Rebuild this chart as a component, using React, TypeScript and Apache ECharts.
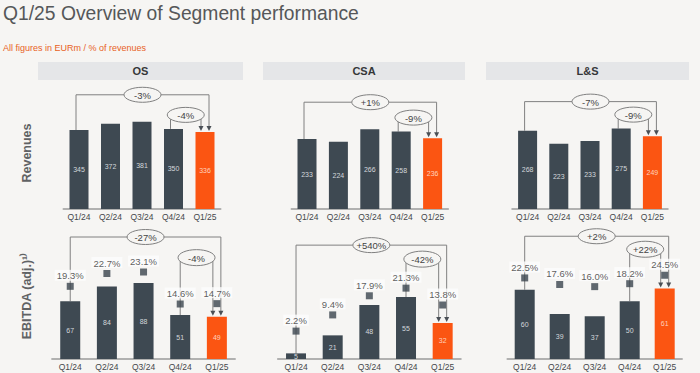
import React, { useEffect, useRef } from "react";
import * as echarts from "echarts";

const QUARTERS = ["Q1/24", "Q2/24", "Q3/24", "Q4/24", "Q1/25"];
const SEGMENTS = ["OS", "CSA", "L&S"];
const REV_OS = [345, 372, 381, 350, 336];
const REV_CSA = [233, 224, 266, 258, 236];
const REV_LS = [268, 223, 233, 275, 249];
const EBITDA_OS = [67, 84, 88, 51, 49];
const EBITDA_CSA = [5, 21, 48, 55, 32];
const EBITDA_LS = [60, 39, 37, 50, 61];
const MARGIN_OS = [19.3, 22.7, 23.1, 14.6, 14.7];
const MARGIN_CSA = [2.2, 9.4, 17.9, 21.3, 13.8];
const MARGIN_LS = [22.5, 17.6, 16.0, 18.2, 24.5];
const REV_YOY = ["-3%", "+1%", "-7%"];
const REV_QOQ = ["-4%", "-9%", "-9%"];
const EBITDA_YOY = ["-27%", "+540%", "+2%"];
const EBITDA_QOQ = ["-4%", "-42%", "+22%"];

const TITLE = "Q1/25 Overview of Segment performance";
const SUBTITLE = "All figures in EURm / % of revenues";

const REVENUES = [REV_OS, REV_CSA, REV_LS];
const EBITDAS = [EBITDA_OS, EBITDA_CSA, EBITDA_LS];
const MARGINS = [MARGIN_OS, MARGIN_CSA, MARGIN_LS];

// layout (pixels / axis ranges), not data
const FONT = '"Liberation Sans", Arial, Helvetica, sans-serif';
const BG = "#f6f5f3";
const DARK = "#3e4952";
const ORANGE = "#fb5512";
const LINE = "#808080";
const REV_GRID = [
  { left: 63.25, width: 157.5 },
  { left: 291.3, width: 157 },
  { left: 512, width: 156 },
];
const EB_GRID = [
  { left: 51.9, width: 183.3 },
  { left: 277.7, width: 183.3 },
  { left: 507.2, width: 175 },
];
const REV_TOP = 95, REV_H = 114;
const EB_TOP = 240, EB_H = 119;
const REV_MAX = [498, 380, 390];
const EB_MAX = [138, 105.7, 103];
const MG_RANGE = [
  [0, 31.6],
  [-10.2, 42.7],
  [-38, 50.8],
];
const HEADERS = [
  { x: 38, w: 205 },
  { x: 263, w: 202 },
  { x: 486, w: 203 },
];
const EB_BIG_GAP = [19, 27, 23];
const EB_SMALL_GAP = [30, 13, 10];

function staticGraphics(): any[] {
  const els: any[] = [
    {
      id: "title",
      type: "text",
      x: 3,
      y: 4,
      z: 10,
      style: { text: TITLE, font: `19.3px ${FONT}`, fill: "#555759" },
    },
    {
      id: "subtitle",
      type: "text",
      x: 3,
      y: 43,
      z: 10,
      style: { text: SUBTITLE, font: `9px ${FONT}`, fill: "#e8611e" },
    },
    {
      id: "rowRev",
      type: "text",
      x: 26.5,
      y: 153,
      rotation: Math.PI / 2,
      z: 10,
      style: {
        text: "Revenues",
        font: `bold 12.5px ${FONT}`,
        fill: "#606264",
        align: "center",
        verticalAlign: "middle",
        textAlign: "center",
        textVerticalAlign: "middle",
      },
    },
    {
      id: "rowEb",
      type: "text",
      x: 26.5,
      y: 296,
      rotation: Math.PI / 2,
      z: 10,
      style: {
        text: "EBITDA (adj.)\u00b9\u207e",
        font: `bold 12.5px ${FONT}`,
        fill: "#606264",
        align: "center",
        verticalAlign: "middle",
        textAlign: "center",
        textVerticalAlign: "middle",
      },
    },
  ];
  SEGMENTS.forEach((s, i) => {
    els.push({
      id: "hdr" + i,
      type: "rect",
      z: 1,
      shape: { x: HEADERS[i].x, y: 62, width: HEADERS[i].w, height: 18 },
      style: { fill: "#e5e6e8" },
    });
    els.push({
      id: "hdrt" + i,
      type: "text",
      z: 2,
      x: HEADERS[i].x + HEADERS[i].w / 2,
      y: 71,
      style: {
        text: s,
        font: `bold 11px ${FONT}`,
        fill: "#353739",
        align: "center",
        verticalAlign: "middle",
        textAlign: "center",
        textVerticalAlign: "middle",
      },
    });
  });
  return els;
}

function bracket(
  id: string,
  x1: number,
  y1: number,
  x2: number,
  tip: number,
  y: number,
  text: string,
  ry: number
): any[] {
  const cx = (x1 + x2) / 2;
  return [
    {
      id: id + "l",
      type: "polyline",
      z: 1,
      shape: {
        points: [
          [x1, y1],
          [x1, y],
          [x2, y],
          [x2, tip - 4],
        ],
      },
      style: { stroke: LINE, lineWidth: 1, fill: null },
    },
    {
      id: id + "a",
      type: "polygon",
      z: 5,
      shape: {
        points: [
          [x2 - 2.5, tip - 5],
          [x2 + 2.5, tip - 5],
          [x2, tip],
        ],
      },
      style: { fill: "#4a4f55" },
    },
    {
      id: id + "e",
      type: "ellipse",
      z: 5,
      shape: { cx, cy: y, rx: 18.5, ry },
      style: { fill: BG, stroke: LINE, lineWidth: 1 },
    },
    {
      id: id + "t",
      type: "text",
      z: 6,
      x: cx,
      y: y + 0.5,
      style: {
        text,
        font: `9.5px ${FONT}`,
        fill: "#444",
        align: "center",
        verticalAlign: "middle",
        textAlign: "center",
        textVerticalAlign: "middle",
      },
    },
  ];
}

function barData(vals: number[]) {
  return vals.map((v, i) =>
    i === vals.length - 1
      ? { value: v, itemStyle: { color: ORANGE }, label: { color: "#ffd2bd" } }
      : { value: v }
  );
}

export default function App() {
  const ref = useRef<HTMLDivElement>(null);
  useEffect(() => {
    if (!ref.current) return;
    const chart = echarts.init(ref.current, undefined, { renderer: "svg" });
    const grids: any[] = [];
    const xAxes: any[] = [];
    const yAxes: any[] = [];
    const series: any[] = [];
    const xAxisBase = (gridIndex: number) => ({
      type: "category",
      gridIndex,
      data: QUARTERS,
      axisTick: { show: false },
      axisLine: { onZero: false, lineStyle: { color: "#9b9b9b", width: 1.5 } },
      axisLabel: { fontSize: 8.5, color: "#45484b", margin: 3, fontFamily: FONT },
    });
    REV_GRID.forEach((g, i) => {
      grids.push({ left: g.left, width: g.width, top: REV_TOP, height: REV_H });
      xAxes.push(xAxisBase(i));
      yAxes.push({ type: "value", gridIndex: i, min: 0, max: REV_MAX[i], show: false, splitLine: { show: false } });
    });
    EB_GRID.forEach((g, i) => {
      grids.push({ left: g.left, width: g.width, top: EB_TOP, height: EB_H });
      xAxes.push(xAxisBase(3 + i));
      yAxes.push({ type: "value", gridIndex: 3 + i, min: 0, max: EB_MAX[i], show: false, splitLine: { show: false } });
    });
    MG_RANGE.forEach((r, i) => {
      yAxes.push({ type: "value", gridIndex: 3 + i, min: r[0], max: r[1], show: false, splitLine: { show: false } });
    });
    const barLabel = { show: true, position: "inside", fontSize: 7, color: "#d3d7db", fontFamily: FONT };
    REVENUES.forEach((vals, i) => {
      series.push({
        type: "bar",
        xAxisIndex: i,
        yAxisIndex: i,
        barWidth: 19,
        itemStyle: { color: DARK },
        label: barLabel,
        data: barData(vals),
        z: 2,
      });
    });
    EBITDAS.forEach((vals, i) => {
      series.push({
        type: "bar",
        xAxisIndex: 3 + i,
        yAxisIndex: 3 + i,
        barWidth: 20,
        itemStyle: { color: DARK },
        label: barLabel,
        data: barData(vals),
        z: 2,
      });
    });
    MARGINS.forEach((vals, i) => {
      series.push({
        type: "scatter",
        xAxisIndex: 3 + i,
        yAxisIndex: 6 + i,
        symbol: "rect",
        symbolSize: 7,
        itemStyle: { color: "#3b454e" },
        z: 3,
        label: {
          show: true,
          position: "top",
          distance: 2,
          formatter: (p: any) => p.value.toFixed(1) + "%",
          fontSize: 9.5,
          color: "#333",
          fontFamily: FONT,
          backgroundColor: "#fcfcfc",
          padding: [1, 2, 0, 2],
        },
        data: vals,
      });
    });

    const option: any = {
      animation: false,
      backgroundColor: BG,
      textStyle: { fontFamily: FONT },
      grid: grids,
      xAxis: xAxes,
      yAxis: yAxes,
      series,
      graphic: staticGraphics(),
    };
    chart.setOption(option);

    const px = (s: number, i: number, v: number) =>
      chart.convertToPixel({ seriesIndex: s } as any, [i, v]) as number[];

    const extra: any[] = [];
    for (let p = 0; p < 3; p++) {
      const rv = REVENUES[p];
      const tops = rv.map((v, i) => px(p, i, v));
      const minTop = Math.min(...tops.map((t) => t[1]));
      const bigY = minTop - 27;
      const smallY = tops[3][1] - 14;
      extra.push(
        ...bracket("rb" + p, tops[0][0] - 3, tops[0][1], tops[4][0] + 4, tops[4][1] - 1, bigY, REV_YOY[p], 7.5)
      );
      extra.push(
        ...bracket("rs" + p, tops[3][0] - 3, tops[3][1], tops[4][0] - 4, tops[4][1] - 1, smallY, REV_QOQ[p], 7.5)
      );
      const ev = EBITDAS[p];
      const mv = MARGINS[p];
      const etops = ev.map((v, i) => px(3 + p, i, v));
      const mks = mv.map((v, i) => px(6 + p, i, v));
      const obst = etops.map((t, i) => Math.min(t[1], mks[i][1] - 16));
      const bigE = Math.min(...obst) - EB_BIG_GAP[p];
      const smallE = Math.min(obst[3], obst[4]) - EB_SMALL_GAP[p];
      extra.push(
        ...bracket("eb" + p, etops[0][0], etops[0][1], etops[4][0] + 4, etops[4][1] - 1, bigE, EBITDA_YOY[p], 7.5)
      );
      extra.push(
        ...bracket("es" + p, etops[3][0], etops[3][1], etops[4][0] - 4, etops[4][1] - 1, smallE, EBITDA_QOQ[p], 8)
      );
    }
    chart.setOption({ graphic: [...staticGraphics(), ...extra] });

    return () => chart.dispose();
  }, []);
  return (
    <div
      ref={ref}
      style={{ position: "absolute", left: 0, top: 0, width: 700, height: 373 }}
    />
  );
}
